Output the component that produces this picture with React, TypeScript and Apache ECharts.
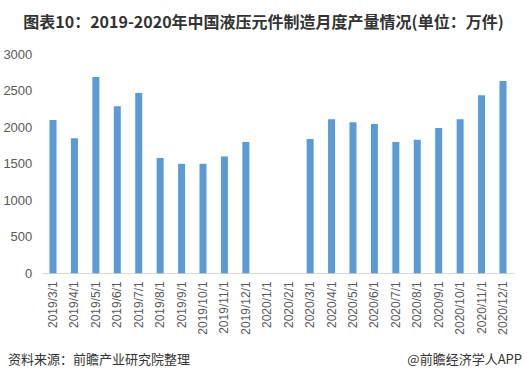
import React, { useEffect, useRef } from "react";
import * as echarts from "echarts";

const categories = [
  "2019/3/1", "2019/4/1", "2019/5/1", "2019/6/1", "2019/7/1", "2019/8/1",
  "2019/9/1", "2019/10/1", "2019/11/1", "2019/12/1", "2020/1/1", "2020/2/1",
  "2020/3/1", "2020/4/1", "2020/5/1", "2020/6/1", "2020/7/1", "2020/8/1",
  "2020/9/1", "2020/10/1", "2020/11/1", "2020/12/1",
];
const production: (number | null)[] = [
  2100, 1850, 2690, 2290, 2470, 1580, 1500, 1500, 1600, 1800, null, null,
  1840, 2110, 2070, 2045, 1800, 1830, 1990, 2110, 2440, 2635,
];
const titleText = "图表10：2019-2020年中国液压元件制造月度产量情况(单位：万件)";
const sourceText = "资料来源：前瞻产业研究院整理";
const brandText = "@前瞻经济学人APP";

export default function App() {
  const ref = useRef<HTMLDivElement>(null);
  useEffect(() => {
    if (!ref.current) return;
    const chart = echarts.init(ref.current, undefined, { renderer: "svg" });
    chart.setOption({
      animation: false,
      backgroundColor: "#ffffff",
      title: {
        text: titleText,
        left: "center",
        top: 8,
        textStyle: {
          fontFamily: "Noto Sans CJK SC",
          fontSize: 16,
          fontWeight: "bold",
          color: "#333333",
        },
      },
      graphic: [
        {
          type: "text",
          left: 8,
          top: 352,
          style: {
            text: sourceText,
            fontFamily: "Noto Sans CJK SC",
            fontSize: 13,
            fill: "#333333",
          },
        },
        {
          type: "text",
          right: 5,
          top: 352,
          style: {
            text: brandText,
            fontFamily: "Noto Sans CJK SC",
            fontSize: 13,
            fill: "#333333",
          },
        },
      ],
      grid: { left: 42.3, right: 13.3, top: 54.3, bottom: 108.7, containLabel: false },
      xAxis: {
        type: "category",
        data: categories,
        axisLine: { lineStyle: { color: "#D9D9D9", width: 1 } },
        axisTick: { show: false },
        axisLabel: {
          rotate: 90,
          interval: 0,
          margin: 8,
          fontFamily: "Liberation Sans",
          fontSize: 12,
          color: "#595959",
        },
      },
      yAxis: {
        type: "value",
        min: 0,
        max: 3000,
        interval: 500,
        axisLine: { show: false },
        axisTick: { show: false },
        splitLine: { show: false },
        axisLabel: {
          margin: 10,
          fontFamily: "Liberation Sans",
          fontSize: 13,
          color: "#595959",
          formatter: (v: number) => String(v),
        },
      },
      series: [
        {
          type: "bar",
          data: production,
          barWidth: 7,
          itemStyle: { color: "#5B9BD5" },
        },
      ],
    });
    return () => chart.dispose();
  }, []);
  return (
    <div
      ref={ref}
      style={{ position: "fixed", left: 0, top: 0, width: 527, height: 382 }}
    />
  );
}
